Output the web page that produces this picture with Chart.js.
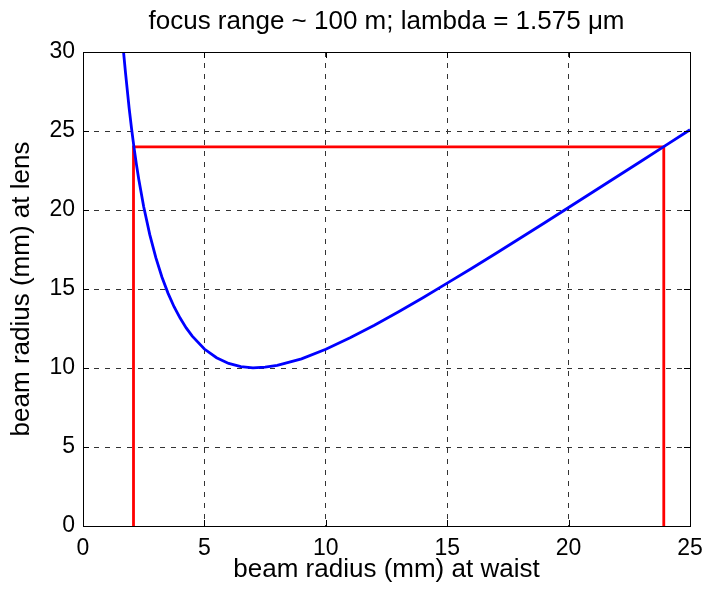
<!DOCTYPE html>
<html>
<head>
<meta charset="utf-8">
<script src="https://cdn.jsdelivr.net/npm/chart.js@4.4.1/dist/chart.umd.min.js"></script>
<style>
  html, body { margin: 0; padding: 0; background: #fff; }
  #wrap { width: 706px; height: 590px; }
</style>
</head>
<body>
<div id="wrap"><canvas id="beam-chart"></canvas></div>
<script>
// waist radius (mm) and resulting beam radius at the lens (mm)
const waistRadius = [1.67, 1.75, 1.9, 2.0, 2.1, 2.2, 2.3, 2.5, 2.75, 3.0, 3.25, 3.5, 3.75, 4.0, 4.25, 4.5,
    5.0, 5.5, 6.0, 6.5, 7.0, 7.5, 8.0, 9.0, 10, 11, 12, 13, 14, 15, 16, 17, 18, 19, 20, 21, 22, 23, 24, 25];
const lensRadius = [30.0, 28.7, 26.45, 25.15, 23.96, 22.89, 21.92, 20.21, 18.44, 16.98, 15.76, 14.74, 13.88, 13.16, 12.54, 12.02,
    11.2, 10.65, 10.29, 10.09, 10.01, 10.05, 10.16, 10.58, 11.19, 11.91, 12.71, 13.56, 14.45, 15.37, 16.3, 17.25, 18.21, 19.18, 20.16, 21.14, 22.12, 23.1, 24.09, 25.08];

// red guide: both waist solutions for a 24 mm lens radius
const markX = [2.08, 2.08, 23.92, 23.92];
const markY = [0, 24, 24, 0];

const xTicks = [0, 5, 10, 15, 20, 25];
const yTicks = [0, 5, 10, 15, 20, 25, 30];

const FONT = "'Liberation Sans', Arial, Helvetica, sans-serif";

const toPoints = (xs, ys) => xs.map((x, i) => ({ x: x, y: ys[i] }));

// axes box with inward tick marks
const framePlugin = {
    id: 'frame',
    afterDraw(chart) {
        const { ctx, chartArea: a, scales } = chart;
        const len = 6;
        ctx.save();
        ctx.strokeStyle = '#000';
        ctx.lineWidth = 1;
        ctx.beginPath();
        xTicks.forEach(v => {
            const px = Math.round(scales.x.getPixelForValue(v)) + 0.5;
            ctx.moveTo(px, a.bottom); ctx.lineTo(px, a.bottom - len);
            ctx.moveTo(px, a.top); ctx.lineTo(px, a.top + len);
        });
        yTicks.forEach(v => {
            const py = Math.round(scales.y.getPixelForValue(v)) + 0.5;
            ctx.moveTo(a.left, py); ctx.lineTo(a.left + len, py);
            ctx.moveTo(a.right, py); ctx.lineTo(a.right - len, py);
        });
        ctx.stroke();
        ctx.strokeRect(Math.round(a.left) + 0.5, Math.round(a.top) + 0.5,
            Math.round(a.right - a.left), Math.round(a.bottom - a.top));
        ctx.restore();
    }
};

new Chart(document.getElementById('beam-chart'), {
    type: 'scatter',
    data: {
        datasets: [
            {
                data: toPoints(waistRadius, lensRadius),
                showLine: true,
                borderColor: '#0000ff',
                borderWidth: 2.8,
                pointRadius: 0,
                tension: 0
            },
            {
                data: toPoints(markX, markY),
                showLine: true,
                borderColor: '#ff0000',
                borderWidth: 2.8,
                pointRadius: 0,
                tension: 0
            }
        ]
    },
    options: {
        responsive: true,
        maintainAspectRatio: false,
        animation: false,
        layout: { padding: { left: 0, right: 16, top: 0, bottom: 0 } },
        plugins: {
            legend: { display: false },
            tooltip: { enabled: false },
            title: {
                display: true,
                fullSize: false,
                text: 'focus range ~ 100 m; lambda = 1.575 \u03bcm',
                color: '#000',
                font: { family: FONT, size: 26, weight: 'normal', lineHeight: 1.0 },
                padding: { top: 9, bottom: 17 }
            }
        },
        scales: {
            x: {
                type: 'linear',
                min: 0,
                max: 25,
                afterBuildTicks: s => { s.ticks = xTicks.map(v => ({ value: v })); },
                afterFit: s => { s.height = 64; s.paddingLeft = 0; s.paddingRight = 0; },
                grid: { color: '#333', lineWidth: 1, drawTicks: false },
                border: { display: false, dash: [5, 6] },
                ticks: { color: '#000', padding: 9, font: { family: FONT, size: 23 } },
                title: {
                    display: true,
                    text: 'beam radius (mm) at waist',
                    color: '#000',
                    font: { family: FONT, size: 26 },
                    padding: { top: 0, bottom: 5 }
                }
            },
            y: {
                type: 'linear',
                min: 0,
                max: 30,
                afterBuildTicks: s => { s.ticks = yTicks.map(v => ({ value: v })); },
                afterFit: s => { s.width = 83; s.paddingTop = 0; s.paddingBottom = 0; },
                grid: { color: '#333', lineWidth: 1, drawTicks: false },
                border: { display: false, dash: [5, 6] },
                ticks: { color: '#000', padding: 8, font: { family: FONT, size: 23 } },
                title: {
                    display: true,
                    text: 'beam radius (mm) at lens',
                    color: '#000',
                    font: { family: FONT, size: 26 },
                    padding: { top: 6, bottom: 0 }
                }
            }
        }
    },
    plugins: [framePlugin]
});
</script>
</body>
</html>
